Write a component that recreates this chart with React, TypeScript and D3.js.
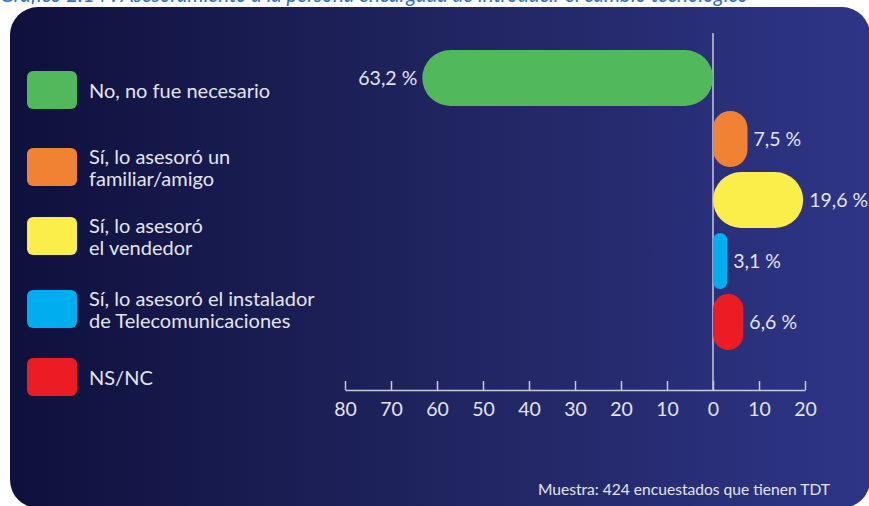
import React, { useEffect, useRef } from 'react';
import * as d3 from 'd3';

// datos del gráfico
const categories = [
  'No, no fue necesario',
  'Sí, lo asesoró un familiar/amigo',
  'Sí, lo asesoró el vendedor',
  'Sí, lo asesoró el instalador de Telecomunicaciones',
  'NS/NC',
];
// valor negativo = barra hacia la izquierda
const values = [-63.2, 7.5, 19.6, 3.1, 6.6];
const legendLines = [
  ['No, no fue necesario'],
  ['Sí, lo asesoró un', 'familiar/amigo'],
  ['Sí, lo asesoró', 'el vendedor'],
  ['Sí, lo asesoró el instalador', 'de Telecomunicaciones'],
  ['NS/NC'],
];
const colors = ['#52b85c', '#f18233', '#fcee4a', '#00aeef', '#ec1c24'];
const tickValues = [-80, -70, -60, -50, -40, -30, -20, -10, 0, 10, 20];
const title =
  'Gráfico 2.14 : Asesoramiento a la persona encargada de introducir el cambio tecnológico';
const note = 'Muestra: 424 encuestados que tienen TDT';

const W = 869;
const H = 506;
const FONT = 'Lato, "Open Sans", sans-serif';
const TEXT = '#e4e4ee';
const legendTops = [71, 148, 217, 290, 358];

const App: React.FC = () => {
  const svgRef = useRef<SVGSVGElement | null>(null);

  useEffect(() => {
    if (!svgRef.current) return;
    const svg = d3.select(svgRef.current);
    svg.selectAll('*').remove();

    const x = d3.scaleLinear().domain([-80, 20]).range([345, 805]);
    const y = d3
      .scaleBand<string>()
      .domain(categories)
      .range([47.5, 352.5])
      .paddingInner(0.082)
      .paddingOuter(0.041);

    // fondo con degradado
    const grad = svg
      .append('defs')
      .append('linearGradient')
      .attr('id', 'bg-grad')
      .attr('x1', '0%')
      .attr('x2', '100%')
      .attr('y1', '0%')
      .attr('y2', '0%');
    grad.append('stop').attr('offset', '0%').attr('stop-color', '#0e113c');
    grad.append('stop').attr('offset', '50%').attr('stop-color', '#20245f');
    grad.append('stop').attr('offset', '100%').attr('stop-color', '#2e3587');

    svg.append('rect').attr('width', W).attr('height', H).attr('fill', '#ffffff');

    // título (cortado arriba, como en el original)
    svg
      .append('text')
      .attr('x', 0)
      .attr('y', 2)
      .attr('font-family', FONT)
      .attr('font-style', 'italic')
      .attr('font-size', 20.5)
      .attr('fill', '#2f6fc4')
      .text(title);

    svg
      .append('rect')
      .attr('x', 10)
      .attr('y', 7)
      .attr('width', 860)
      .attr('height', 501)
      .attr('rx', 28)
      .attr('fill', 'url(#bg-grad)');

    // leyenda
    const lg = svg
      .append('g')
      .selectAll('g')
      .data(categories)
      .join('g')
      .attr('transform', (_, i) => `translate(27,${legendTops[i]})`);

    lg.append('rect')
      .attr('width', 50)
      .attr('height', 38)
      .attr('rx', 6)
      .attr('fill', (_, i) => colors[i]);

    const lineH = 22;
    lg.append('text')
      .attr('font-family', FONT)
      .attr('font-size', 20)
      .attr('fill', TEXT)
      .each(function (_, i) {
        const lines = legendLines[i];
        const first = 19 + 8 - ((lines.length - 1) * lineH) / 2;
        d3.select(this)
          .selectAll('tspan')
          .data(lines)
          .join('tspan')
          .attr('x', 62)
          .attr('y', (_, j) => first + j * lineH)
          .text((d) => d);
      });

    // eje
    const axis = svg
      .append('g')
      .attr('transform', 'translate(0,390)')
      .call(
        d3
          .axisBottom(x)
          .tickValues(tickValues)
          .tickFormat((d) => String(Math.abs(d as number)))
          .tickSizeInner(-9)
          .tickSizeOuter(0)
          .tickPadding(12),
      );
    axis.select('.domain').attr('stroke', '#c9cadb').attr('stroke-width', 1.5);
    axis.selectAll('.tick line').attr('stroke', '#c9cadb').attr('stroke-width', 1.5);
    axis
      .selectAll('.tick text')
      .attr('font-family', FONT)
      .attr('font-size', 19.5)
      .attr('fill', TEXT);

    // línea del cero
    svg
      .append('line')
      .attr('x1', x(0))
      .attr('x2', x(0))
      .attr('y1', 33)
      .attr('y2', 390)
      .attr('stroke', '#c9cadb')
      .attr('stroke-width', 1.5);

    // barras
    const bw = y.bandwidth();
    svg
      .append('g')
      .selectAll('rect')
      .data(values)
      .join('rect')
      .attr('x', (d) => Math.min(x(d), x(0)))
      .attr('y', (_, i) => y(categories[i])!)
      .attr('width', (d) => Math.abs(x(d) - x(0)))
      .attr('height', bw)
      .attr('rx', (d) => Math.min(bw / 2, Math.abs(x(d) - x(0)) / 2))
      .attr('fill', (_, i) => colors[i]);

    // etiquetas de valores
    svg
      .append('g')
      .selectAll('text')
      .data(values)
      .join('text')
      .attr('x', (d) => (d < 0 ? x(d) - 5 : x(d) + 6))
      .attr('y', (_, i) => y(categories[i])! + bw / 2)
      .attr('dy', '0.35em')
      .attr('text-anchor', (d) => (d < 0 ? 'end' : 'start'))
      .attr('font-family', FONT)
      .attr('font-size', 19.5)
      .attr('fill', TEXT)
      .text((d) => `${Math.abs(d).toFixed(1).replace('.', ',')} %`);

    // nota
    svg
      .append('text')
      .attr('x', 830)
      .attr('y', 495)
      .attr('text-anchor', 'end')
      .attr('font-family', FONT)
      .attr('font-size', 15.6)
      .attr('fill', TEXT)
      .text(note);
  }, []);

  return (
    <svg
      ref={svgRef}
      width={W}
      height={H}
      style={{ position: 'absolute', left: 0, top: 0 }}
    ></svg>
  );
};

export default App;
